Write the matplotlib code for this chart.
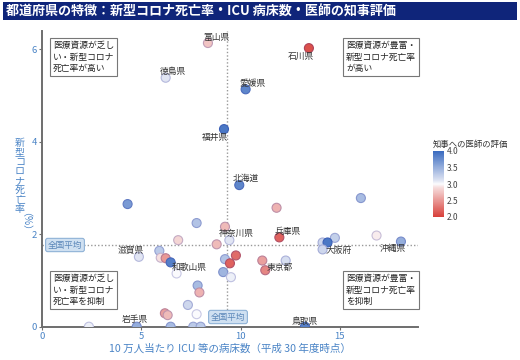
import matplotlib
matplotlib.use("Agg")
import matplotlib.pyplot as plt
import numpy as np
from matplotlib.colors import LinearSegmentedColormap, Normalize
from matplotlib.patches import Rectangle
import matplotlib.colorbar as mcolorbar

plt.rcParams['font.family'] = ['Noto Sans CJK JP', 'DejaVu Sans']

# ---- data ----
icu_beds = [8.35, 6.22, 10.25, 9.16, 9.93, 13.44, 4.30, 7.78, 9.21, 6.85,
            9.43, 8.79, 11.95, 5.90, 5.97, 6.22, 6.47, 6.77, 9.21, 9.76,
            9.46, 9.12, 9.51, 11.09, 11.24, 12.27, 7.83, 7.92, 7.34, 6.18,
            6.32, 7.78, 6.47, 7.61, 7.98, 2.35, 4.76, 13.24, 11.81, 16.06,
            14.75, 14.13, 14.38, 14.13, 16.85, 18.08, 4.87]
death_rate = [6.13, 5.38, 5.13, 4.27, 3.06, 6.02, 2.65, 2.24, 2.16, 1.87,
              1.87, 1.78, 1.93, 1.64, 1.49, 1.48, 1.39, 1.15, 1.46, 1.54,
              1.37, 1.18, 1.07, 1.43, 1.22, 1.43, 0.89, 0.74, 0.47, 0.29,
              0.25, 0.27, 0.0, 0.0, 0.0, 0.0, 0.0, 0.0, 2.57, 2.78,
              1.92, 1.82, 1.82, 1.67, 1.97, 1.84, 1.51]
rating = [2.75, 3.1, 3.8, 3.9, 3.8, 2.1, 3.65, 3.35, 2.7, 2.85,
          3.1, 2.7, 2.2, 3.3, 2.9, 2.5, 3.85, 3.0, 3.35, 2.25,
          2.2, 3.45, 3.05, 2.55, 2.4, 3.15, 3.4, 2.65, 3.2, 2.55,
          2.7, 3.0, 3.4, 3.3, 3.3, 3.05, 3.5, 3.85, 2.65, 3.4,
          3.25, 3.2, 3.9, 3.2, 2.95, 3.5, 3.1]
names = ['富山県', '徳島県', '愛媛県', '福井県', '北海道', '石川県', '', '', '', '',
         '神奈川県', '', '兵庫県', '', '', '', '', '和歌山県', '', '',
         '', '', '', '', '東京都', '', '', '', '', '',
         '', '', '', '', '', '', '岩手県', '鳥取県', '', '',
         '', '', '大阪府', '', '', '沖縄県', '滋賀県']
label_offsets = {'富山県': (8, 6), '徳島県': (7, 6), '愛媛県': (7, 6), '福井県': (-9, -8),
                 '北海道': (7, 7), '石川県': (-8, -8), '神奈川県': (7, 7), '兵庫県': (8, 6),
                 '滋賀県': (-8, 6), '和歌山県': (13, 6), '東京都': (14, 3), '大阪府': (11, -8),
                 '沖縄県': (-8, -7), '岩手県': (-2, 7), '鳥取県': (0, 5)}
avg_beds = 9.31
avg_death = 1.77
quadrant_texts = ['医療資源が乏し\nい・新型コロナ\n死亡率が高い',
                  '医療資源が豊富・\n新型コロナ死亡率\nが高い',
                  '医療資源が乏し\nい・新型コロナ\n死亡率を抑制',
                  '医療資源が豊富・\n新型コロナ死亡率\nを抑制']
cbar_ticks = [2.0, 2.5, 3.0, 3.5, 4.0]

# ---- figure ----
W, H = 520, 360
fig = plt.figure(figsize=(W / 100, H / 100), dpi=100)

def fx(px):
    return px / W

def fy(py):
    return 1 - py / H

# title bar
fig.patches.append(Rectangle((fx(3), fy(20)), fx(514), 18 / H, transform=fig.transFigure,
                             facecolor='#0f257a', edgecolor='none', zorder=0))
fig.text(fx(6), fy(11), '都道府県の特徴：新型コロナ死亡率・ICU 病床数・医師の知事評価',
         color='white', fontsize=9.4, fontweight='bold', va='center', ha='left')

ax = fig.add_axes([fx(42.3), fy(326.7), (418 - 42.3) / W, (326.7 - 31) / H])

cmap = LinearSegmentedColormap.from_list('rw_b', [(0.0, '#d8403a'), (0.45, '#f6dede'),
                                                  (0.5, '#fbfbfd'), (0.55, '#e0e5f3'),
                                                  (1.0, '#3a6bc0')])
norm = Normalize(2.0, 4.0)

face = cmap(norm(np.array(rating)))
edge = face.copy()
edge[:, :3] = edge[:, :3] * 0.8
edge[:, 2] = np.minimum(1, edge[:, 2] + 0.1)

ax.axhline(avg_death, color='#999999', lw=1.0, ls=(0, (1, 1.5)), zorder=1)
ax.axvline(avg_beds, color='#999999', lw=1.0, ls=(0, (1, 1.5)), zorder=1)

ax.scatter(icu_beds, death_rate, s=42, c=face, edgecolors=edge, linewidths=0.8, zorder=3)

for x, y, n in zip(icu_beds, death_rate, names):
    if n:
        dx, dy = label_offsets[n]
        ax.annotate(n, (x, y), xytext=(dx, dy), textcoords='offset pixels',
                    ha='center', va='center', fontsize=6.3, color='#333333', zorder=4)

ax.set_xlim(0, 18.94)
ax.set_ylim(0, 6.39)
ax.set_xticks([0, 5, 10, 15])
ax.set_yticks([0, 2, 4, 6])
for s in ['top', 'right']:
    ax.spines[s].set_visible(False)
for s in ['left', 'bottom']:
    ax.spines[s].set_color('#6e6e6e')
    ax.spines[s].set_linewidth(1.4)
ax.tick_params(axis='both', colors='#6e6e6e', labelcolor='#4a84c6', labelsize=6.8,
               length=2.5, width=0.8, pad=1.5)

box_kw = dict(boxstyle='square,pad=0.35', facecolor='white', edgecolor='#777777', linewidth=0.8)
qpos = [(51, 57), (344, 57), (51, 290), (344, 290)]
for (px, py), t in zip(qpos, quadrant_texts):
    fig.text(fx(px + 2), fy(py), t, fontsize=6.3, color='#222222', ha='left', va='center',
             linespacing=1.35, bbox=box_kw)

avg_kw = dict(boxstyle='round,pad=0.25', facecolor='#cfe0f1', edgecolor='#8fb2d6', linewidth=0.8)
fig.text(fx(65), fy(245), '全国平均', fontsize=6.2, color='#5a86b8', ha='center', va='center',
         bbox=avg_kw, zorder=5)
fig.text(fx(228), fy(317), '全国平均', fontsize=6.2, color='#5a86b8', ha='center', va='center',
         bbox=avg_kw, zorder=5)

# axis labels
fig.text(fx(230), fy(348.5), '10 万人当たり ICU 等の病床数（平成 30 年度時点）', fontsize=7.6,
         color='#4a84c6', ha='center', va='center')
ychars = '新型コロナ死亡率'
for i, ch in enumerate(ychars):
    fig.text(fx(20), fy(143 + i * 9.4), ch, fontsize=7.2, color='#4a84c6',
             ha='center', va='center')
fig.text(fx(20), fy(227), '（%）', fontsize=7.2, color='#4a84c6', ha='center', va='center',
         rotation=-90)

# colorbar
cax = fig.add_axes([fx(433), fy(217), 11 / W, 66 / H])
cb = mcolorbar.ColorbarBase(cax, cmap=cmap, norm=norm, ticks=cbar_ticks)
cb.outline.set_visible(False)
cax.tick_params(length=0, labelsize=6, labelcolor='#444444', pad=2)
cax.set_yticklabels(['%.1f' % t for t in cbar_ticks])
fig.text(fx(433), fy(144), '知事への医師の評価', fontsize=6, color='#333333', ha='left', va='center')

fig.savefig('out.png', dpi=100)
